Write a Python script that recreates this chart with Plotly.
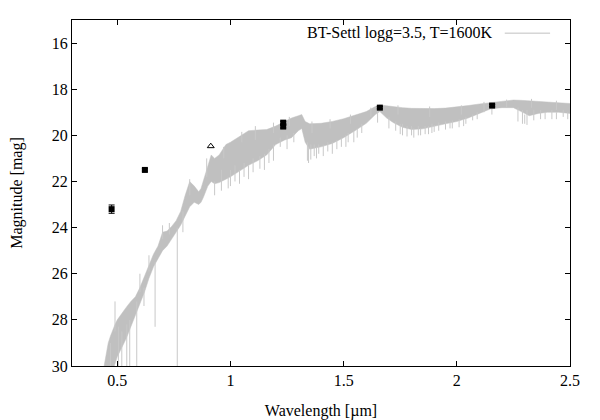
"""
Spectrum vs photometry plot (BT-Settl model + measured magnitudes)
"""
import plotly.graph_objects as go

# Model spectrum: wavelength (micron), bright edge and
# faint edge of the dense part of the band (mag)
wave = [0.44, 0.45, 0.46, 0.47, 0.48, 0.49, 0.50, 0.52, 0.54, 0.56,
        0.58, 0.60, 0.62, 0.64, 0.66, 0.68, 0.70, 0.72, 0.74, 0.76,
        0.78, 0.80, 0.82, 0.84, 0.86, 0.87, 0.88, 0.90, 0.915, 0.93,
        0.95, 0.98, 1.00, 1.04, 1.08, 1.12, 1.16, 1.20, 1.24, 1.27,
        1.30, 1.315, 1.33, 1.35, 1.40, 1.45, 1.50, 1.55, 1.60, 1.64,
        1.66, 1.69, 1.72, 1.76, 1.80, 1.85, 1.90, 1.95, 2.00, 2.05,
        2.10, 2.15, 2.20, 2.25, 2.28, 2.32, 2.36, 2.40, 2.45, 2.50]
mag_bright = [30.1, 29.5, 29.0, 28.7, 28.4, 28.2, 28.0, 27.7, 27.45, 27.2,
              27.0, 26.6, 26.1, 25.6, 25.15, 24.8, 24.2, 24.15, 23.95, 23.7,
              23.3, 22.6, 22.0, 22.2, 22.45, 22.3, 22.0, 21.3, 20.85, 21.0,
              20.85, 20.4, 20.3, 20.05, 19.8, 19.77, 19.75, 19.6, 19.4, 19.25,
              19.15, 19.1, 19.4, 19.5, 19.48, 19.4, 19.28, 19.12, 18.97, 18.75,
              18.68, 18.72, 18.76, 18.8, 18.83, 18.85, 18.84, 18.82, 18.78, 18.71,
              18.64, 18.58, 18.52, 18.47, 18.48, 18.5, 18.52, 18.55, 18.58, 18.62]
mag_faint = [30.3, 30.3, 30.3, 30.3, 30.2, 29.9, 29.6, 29.2, 28.8, 28.3,
             27.8, 27.3, 26.8, 26.2, 25.7, 25.35, 25.0, 24.8, 24.5, 24.2,
             23.9, 23.5, 23.1, 22.9, 23.0, 22.9, 22.7, 22.2, 22.0, 22.1,
             22.05, 21.9, 21.8, 21.55, 21.3, 21.1, 20.85, 20.4, 20.2, 20.1,
             19.8, 19.7, 20.3, 20.6, 20.5, 20.35, 20.1, 19.8, 19.48, 19.1,
             18.97, 19.25, 19.45, 19.65, 19.75, 19.72, 19.6, 19.5, 19.4, 19.25,
             19.05, 18.85, 18.8, 18.8, 18.95, 19.15, 19.05, 19.0, 19.0, 19.05]

# Narrow absorption features below the band: wavelength, top mag, bottom mag
abs_wave = [0.47, 0.505, 0.52, 0.542, 0.555, 0.586, 0.618, 0.667, 0.765, 0.79,
            0.93, 0.96, 0.99, 1.00, 1.02, 1.04, 1.06, 1.08, 1.10, 1.13,
            1.15, 1.17, 1.19, 1.22, 1.25, 1.28, 1.34, 1.345, 1.355, 1.37,
            1.38, 1.39, 1.41, 1.43, 1.45, 1.47, 1.49, 1.51, 1.52, 1.545,
            1.56, 1.58, 1.65, 1.70, 1.73, 1.75, 1.76, 1.78, 1.80, 1.81,
            1.83, 1.84, 1.86, 1.875, 1.89, 1.90, 1.92, 1.95, 1.97, 1.98,
            2.01, 2.03, 2.04, 2.07, 2.09, 2.155, 2.27, 2.29, 2.30, 2.31,
            2.34, 2.37, 2.39, 2.42, 2.44, 2.47, 2.49]
abs_top = [29.0, 28.3, 28.5, 28.2, 28.0, 27.2, 26.6, 25.5, 24.0, 23.3,
           22.0, 21.5, 21.8, 21.5, 21.3, 21.5, 21.2, 21.3, 21.0, 20.9,
           20.8, 20.6, 20.4, 20.1, 20.0, 19.9, 20.3, 20.5, 20.4, 20.4,
           20.5, 20.4, 20.4, 20.3, 20.3, 20.2, 20.1, 20.0, 19.9, 19.8,
           19.7, 19.5, 18.9, 19.2, 19.4, 19.5, 19.5, 19.6, 19.6, 19.7,
           19.6, 19.7, 19.6, 19.6, 19.5, 19.55, 19.45, 19.4, 19.4, 19.35,
           19.3, 19.3, 19.2, 19.1, 19.0, 18.7, 18.8, 18.9, 19.1, 18.9,
           18.9, 18.9, 19.0, 18.9, 19.0, 18.9, 19.0]
abs_bottom = [30.3, 30.3, 30.3, 30.3, 30.3, 30.3, 27.4, 28.3, 30.3, 24.2,
              22.6, 22.4, 22.3, 22.2, 22.0, 22.1, 21.8, 21.9, 21.6, 21.45,
              21.5, 21.2, 21.1, 20.5, 20.6, 20.3, 21.1, 21.2, 21.05, 20.9,
              21.0, 20.8, 20.9, 20.7, 20.8, 20.6, 20.5, 20.5, 20.3, 20.3,
              20.1, 19.9, 19.45, 19.7, 19.8, 19.95, 20.0, 20.05, 20.0, 20.1,
              20.0, 20.0, 19.95, 19.95, 19.9, 19.85, 19.8, 19.75, 19.7, 19.7,
              19.65, 19.6, 19.5, 19.35, 19.3, 19.1, 19.4, 19.5, 19.5, 19.55,
              19.35, 19.3, 19.3, 19.3, 19.3, 19.2, 19.3]

# Narrow peaks above the band: wavelength, top mag, bottom mag
peak_wave = [0.49, 0.60, 0.64, 0.70, 0.73, 0.82, 0.895, 0.97, 1.05, 1.11,
             1.19, 1.26, 1.36, 1.44, 1.53, 1.62, 1.74, 1.88, 2.02, 2.12,
             2.22, 2.33, 2.44]
peak_top = [27.2, 26.0, 25.2, 23.9, 23.8, 21.9, 21.0, 20.5, 19.85, 19.6,
            19.45, 19.2, 19.4, 19.3, 19.1, 18.8, 18.7, 18.75, 18.7, 18.55,
            18.45, 18.42, 18.5]
peak_bottom = [28.5, 26.8, 25.9, 24.5, 24.3, 22.6, 21.8, 21.0, 20.3, 20.2,
               19.9, 19.6, 19.9, 19.7, 19.5, 19.2, 19.1, 19.2, 19.1, 19.0,
               18.8, 18.8, 18.9]

# Photometry
phot_wave = [0.475, 0.622, 1.233, 1.233, 1.66, 2.156]
phot_mag = [23.2, 21.5, 19.45, 19.62, 18.8, 18.71]
phot_err = [0.18, 0.05, 0.06, 0.06, 0.05, 0.05]

# Upper limit
lim_wave = [0.913]
lim_mag = [20.47]

legend_text = 'BT-Settl logg=3.5, T=1600K'

GRAY = '#c0c0c0'
FONT = dict(family='Liberation Serif', size=16, color='black')

fig = go.Figure()

fig.add_trace(go.Scatter(
    x=wave, y=mag_faint, mode='lines',
    line=dict(color=GRAY, width=0.5),
    showlegend=False, hoverinfo='skip'
))
fig.add_trace(go.Scatter(
    x=wave, y=mag_bright, mode='lines',
    line=dict(color=GRAY, width=0.5),
    fill='tonexty', fillcolor=GRAY,
    showlegend=False, name=legend_text
))

# narrow features as vertical segments separated by None
spike_x, spike_y = [], []
for w, t, b in zip(abs_wave + peak_wave, abs_top + peak_top, abs_bottom + peak_bottom):
    spike_x += [w, w, None]
    spike_y += [t, b, None]
fig.add_trace(go.Scatter(
    x=spike_x, y=spike_y, mode='lines',
    line=dict(color='#c8c8c8', width=1),
    showlegend=False, hoverinfo='skip'
))

fig.add_trace(go.Scatter(
    x=phot_wave, y=phot_mag, mode='markers',
    marker=dict(symbol='square', size=6, color='black'),
    error_y=dict(type='data', array=phot_err, color='black', thickness=1, width=3),
    showlegend=False
))
fig.add_trace(go.Scatter(
    x=lim_wave, y=lim_mag, mode='markers',
    marker=dict(symbol='triangle-up-open', size=6, color='black',
                line=dict(width=1, color='black')),
    showlegend=False
))

# gnuplot-style key: text then line sample
fig.add_annotation(
    text=legend_text, xref='paper', yref='paper',
    x=0.849, y=0.962, xanchor='right', yanchor='middle',
    showarrow=False, font=FONT
)
fig.add_shape(
    type='line', xref='paper', yref='paper',
    x0=0.869, x1=0.960, y0=0.962, y1=0.962,
    line=dict(color=GRAY, width=1)
)

axis_common = dict(
    showline=True, linecolor='black', linewidth=1, mirror='ticks',
    ticks='inside', ticklen=5, tickcolor='black',
    showgrid=False, zeroline=False, tickfont=FONT, automargin=False
)

# the html page puts the figure 8px in from the top-left corner
fig.update_layout(
    width=592, height=412,
    margin=dict(l=64, r=30, t=12, b=54),
    paper_bgcolor='white', plot_bgcolor='white',
    font=FONT,
    xaxis=dict(
        range=[0.3, 2.5], tickvals=[0.5, 1, 1.5, 2, 2.5],
        ticktext=['0.5', '1', '1.5', '2', '2.5'],
        title=dict(text='Wavelength [µm]', font=FONT, standoff=16),
        **axis_common
    ),
    yaxis=dict(
        range=[30, 15], tickvals=[16, 18, 20, 22, 24, 26, 28, 30],
        title=dict(text='Magnitude [mag]', font=FONT, standoff=26),
        **axis_common
    ),
)

fig.write_html("out.html")
